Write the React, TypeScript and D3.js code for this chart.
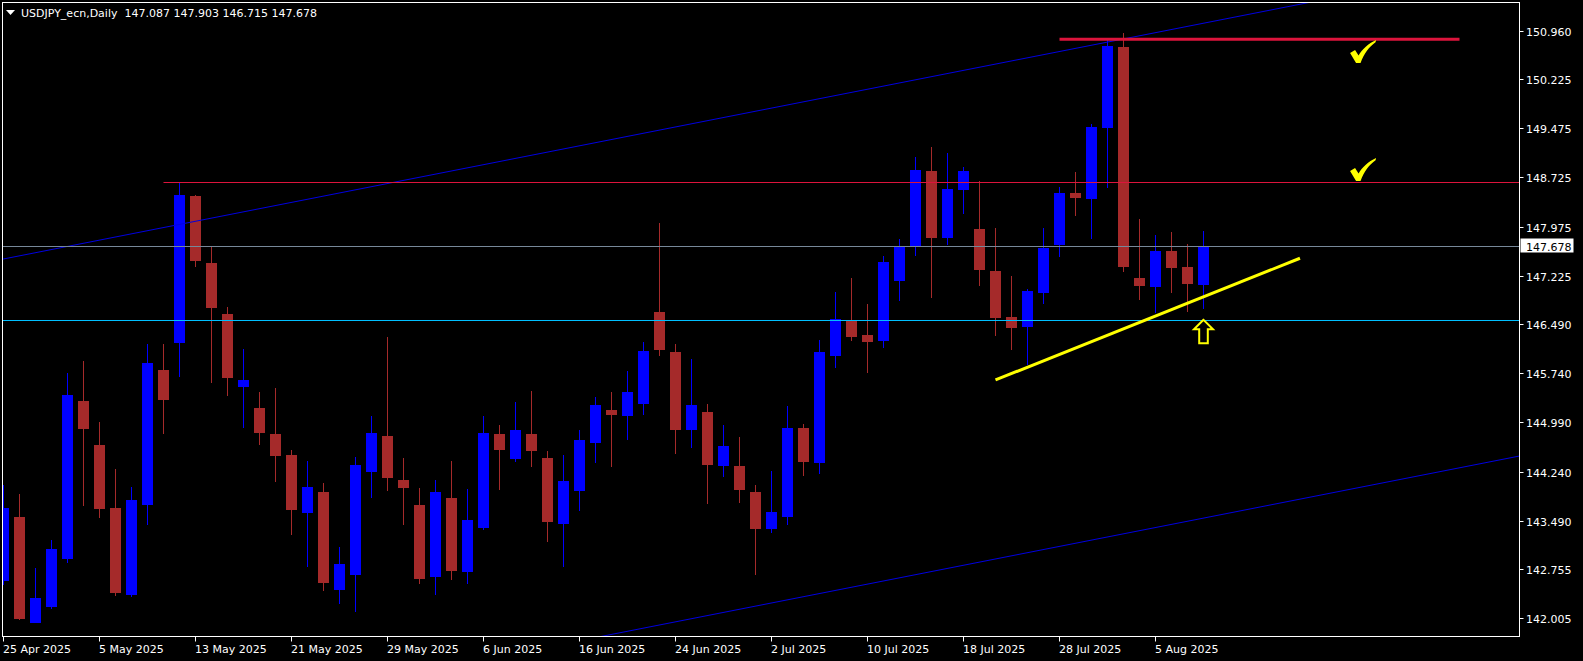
import React from "react";
import * as d3 from "d3";

// ---- Data (USDJPY_ecn, Daily) ----
const dates = [
  "25 Apr", "28 Apr", "29 Apr", "30 Apr", "1 May", "2 May", "5 May", "6 May", "7 May", "8 May",
  "9 May", "12 May", "13 May", "14 May", "15 May", "16 May", "19 May", "20 May", "21 May", "22 May",
  "23 May", "26 May", "27 May", "28 May", "29 May", "30 May", "2 Jun", "3 Jun", "4 Jun", "5 Jun",
  "6 Jun", "9 Jun", "10 Jun", "11 Jun", "12 Jun", "13 Jun", "16 Jun", "17 Jun", "18 Jun", "19 Jun",
  "20 Jun", "23 Jun", "24 Jun", "25 Jun", "26 Jun", "27 Jun", "30 Jun", "1 Jul", "2 Jul", "3 Jul",
  "4 Jul", "7 Jul", "8 Jul", "9 Jul", "10 Jul", "11 Jul", "14 Jul", "15 Jul", "16 Jul", "17 Jul",
  "18 Jul", "21 Jul", "22 Jul", "23 Jul", "24 Jul", "25 Jul", "28 Jul", "29 Jul", "30 Jul", "31 Jul",
  "1 Aug", "4 Aug", "5 Aug", "6 Aug", "7 Aug", "8 Aug",
];

const opens = [
  142.578, 143.549, 141.933, 142.182, 142.909, 145.317, 144.646, 143.686, 142.360, 143.736,
  145.789, 146.205, 148.441, 147.420, 146.642, 145.535, 145.210, 144.814, 144.494, 143.614,
  143.930, 142.441, 142.665, 144.239, 144.783, 144.113, 143.732, 142.634, 143.838, 142.715,
  143.386, 144.814, 144.437, 144.814, 144.448, 143.447, 143.945, 144.676, 145.180, 145.093,
  145.275, 146.673, 146.063, 144.879, 145.149, 144.331, 144.326, 143.930, 143.371, 143.553,
  144.905, 144.376, 146.007, 146.536, 146.322, 146.236, 147.150, 147.668, 148.822, 147.805,
  148.537, 147.938, 147.298, 146.597, 146.449, 146.967, 147.699, 148.487, 148.400, 149.482,
  150.712, 147.191, 147.059, 147.603, 147.359, 147.087,
];

const highs = [
  144.036, 143.899, 142.771, 143.203, 145.743, 145.926, 144.997, 144.280, 144.006, 146.185,
  146.180, 148.644, 148.460, 147.679, 146.754, 146.109, 145.454, 145.515, 144.570, 144.402,
  144.067, 143.092, 144.463, 145.088, 146.297, 144.453, 143.991, 144.113, 144.402, 143.975,
  145.088, 144.951, 145.306, 145.469, 144.555, 144.494, 144.879, 145.378, 145.454, 145.774,
  146.216, 148.029, 146.185, 145.957, 145.271, 144.951, 144.768, 144.036, 144.250, 145.240,
  144.966, 146.246, 146.978, 147.196, 146.795, 147.526, 147.785, 149.035, 149.188, 149.096,
  148.883, 148.669, 147.953, 147.222, 147.024, 147.953, 148.578, 148.807, 149.538, 150.818,
  150.925, 148.090, 147.847, 147.892, 147.709, 147.903,
];

const lows = [
  142.517, 141.984, 141.930, 142.151, 142.852, 143.721, 143.538, 142.349, 142.330, 143.431,
  144.818, 145.687, 147.363, 145.596, 145.397, 144.910, 144.651, 144.087, 143.279, 142.787,
  142.426, 142.227, 142.105, 143.843, 143.950, 143.431, 142.532, 142.360, 142.593, 142.532,
  143.355, 143.965, 144.392, 144.315, 143.172, 142.791, 143.645, 144.376, 144.315, 144.727,
  145.108, 146.007, 144.513, 144.605, 143.751, 144.163, 143.767, 142.670, 143.310, 143.431,
  144.178, 144.209, 145.824, 146.236, 145.748, 146.129, 146.841, 147.531, 146.891, 147.699,
  148.171, 147.074, 146.303, 146.098, 145.870, 146.799, 147.516, 148.141, 147.790, 148.567,
  147.287, 146.860, 146.653, 146.967, 146.677, 146.715,
];

const closes = [
  143.686, 141.999, 142.319, 143.061, 145.408, 144.894, 143.675, 142.395, 143.808, 145.896,
  145.336, 148.456, 147.455, 146.739, 145.672, 145.637, 144.834, 144.483, 143.660, 144.006,
  142.548, 142.832, 144.341, 144.829, 144.148, 143.995, 142.608, 143.930, 142.730, 143.503,
  144.829, 144.574, 144.875, 144.559, 143.477, 144.097, 144.722, 145.256, 145.103, 145.454,
  146.079, 146.098, 144.879, 145.256, 144.346, 144.631, 143.965, 143.371, 143.625, 144.905,
  144.392, 146.063, 146.562, 146.297, 146.220, 147.435, 147.679, 148.837, 147.805, 148.547,
  148.822, 147.318, 146.586, 146.434, 146.993, 147.648, 148.487, 148.415, 149.492, 150.727,
  147.363, 147.074, 147.603, 147.348, 147.104, 147.678,
];

const priceTicks = [
  150.96, 150.225, 149.475, 148.725, 147.975, 147.225, 146.49, 145.74, 144.99, 144.24, 143.49,
  142.755, 142.005,
];
const dateTickIdx = [0, 6, 12, 18, 24, 30, 36, 42, 48, 54, 60, 66, 72];
const dateTickLabels = [
  "25 Apr 2025", "5 May 2025", "13 May 2025", "21 May 2025", "29 May 2025", "6 Jun 2025",
  "16 Jun 2025", "24 Jun 2025", "2 Jul 2025", "10 Jul 2025", "18 Jul 2025", "28 Jul 2025",
  "5 Aug 2025",
];

const headerText = "USDJPY_ecn,Daily  147.087 147.903 146.715 147.678";
const bidPrice = 147.678;

// objects drawn on the chart (bar index, price)
const upperChannel = [[0, 147.481], [75, 151.074]];
const lowerChannelAt75 = 143.532;
const supportLine = [[62, 145.637], [81.03, 147.492]];
const resistThin = { from: 10, price: 148.65 };
const resistThick = { from: 66, to: 91, price: 150.829 };
const cyanLevel = 146.546;
const arrowAnchor = { i: 75, price: 146.577 };
const checkMarks = [
  { i: 84.16, price: 150.468 },
  { i: 84.16, price: 148.67 },
];

const W = 1583;
const H = 661;
const L = 2.5, R = 1519.5, T = 2.5, B = 636.5;
const FONT = "DejaVu Sans";

export default function App() {
  const x = d3.scaleLinear().domain([0, 75]).range([3.5, 1203.5]);
  const y = d3.scaleLinear().domain([142.005, 150.96]).range([618.3, 30.7]);
  const iLeft = x.invert(L);
  const iRight = x.invert(R);

  const slope = (upperChannel[1][1] - upperChannel[0][1]) / (upperChannel[1][0] - upperChannel[0][0]);
  const upAt = (i: number) => upperChannel[0][1] + slope * (i - upperChannel[0][0]);
  const lowAt = (i: number) => lowerChannelAt75 + slope * (i - 75);

  const line = d3.line<[number, number]>().x((d) => x(d[0])).y((d) => y(d[1]));

  const candles = dates.map((d, i) => {
    const o = opens[i], c = closes[i], h = highs[i], l = lows[i];
    const up = c >= o;
    const col = up ? "#0000FF" : "#A52A2A";
    const cx = x(i);
    const yTop = Math.round(y(Math.max(o, c)));
    const yBot = Math.round(y(Math.min(o, c)));
    return (
      <g key={d}>
        <line x1={cx} x2={cx} y1={Math.round(y(h))} y2={Math.round(y(l))} stroke={col} strokeWidth={1} />
        <rect x={cx - 5.5} y={yTop} width={11} height={Math.max(1, yBot - yTop)} fill={col} />
      </g>
    );
  });

  const ax = x(arrowAnchor.i);
  const ay = y(arrowAnchor.price);
  const arrowPts = [
    [0, 1.5], [-9.5, 11], [-4.3, 11], [-4.3, 25], [4.3, 25], [4.3, 11], [9.5, 11],
  ].map((p) => `${ax + p[0]},${ay + p[1]}`).join(" ");

  const checkPath = "M0,13 L5,10 L8.5,15.5 C12.5,9 18,3.5 26,0 L25.5,2.2 C19.5,6.5 14,13 10.5,23 L6,23 Z";

  return (
    <svg
      width={W}
      height={H}
      style={{ position: "absolute", left: 0, top: 0, display: "block", background: "#000" }}
    >
      <rect x={0} y={0} width={W} height={H} fill="#000" />
      <defs>
        <clipPath id="plot">
          <rect x={L} y={T} width={R - L} height={B - T} />
        </clipPath>
      </defs>

      <g clipPath="url(#plot)">
        {candles}

        {/* channel */}
        <path d={line([[iLeft, upAt(iLeft)], [iRight, upAt(iRight)]]) || ""} stroke="#0000E0" strokeWidth={1} fill="none" />
        <path d={line([[iLeft, lowAt(iLeft)], [iRight, lowAt(iRight)]]) || ""} stroke="#0000E0" strokeWidth={1} fill="none" />

        {/* horizontal levels */}
        <line x1={x(resistThin.from)} x2={R} y1={Math.round(y(resistThin.price)) + 0.5} y2={Math.round(y(resistThin.price)) + 0.5} stroke="#DC143C" strokeWidth={1} />
        <line x1={x(resistThick.from)} x2={x(resistThick.to)} y1={y(resistThick.price)} y2={y(resistThick.price)} stroke="#DC143C" strokeWidth={3} />
        <line x1={L} x2={R} y1={Math.round(y(bidPrice)) + 0.5} y2={Math.round(y(bidPrice)) + 0.5} stroke="#778899" strokeWidth={1} />
        <line x1={L} x2={R} y1={Math.round(y(cyanLevel)) + 0.5} y2={Math.round(y(cyanLevel)) + 0.5} stroke="#00BFFF" strokeWidth={1} />

        {/* yellow support */}
        <path d={line(supportLine as [number, number][]) || ""} stroke="#FFFF00" strokeWidth={3} fill="none" />

        {/* arrow */}
        <polygon points={arrowPts} fill="none" stroke="#FFFF00" strokeWidth={2} strokeLinejoin="miter" />

        {/* checks */}
        {checkMarks.map((c, k) => (
          <path key={k} d={checkPath} fill="#FFFF00" transform={`translate(${x(c.i)},${y(c.price) - 23})`} />
        ))}
      </g>

      {/* frame */}
      <rect x={L} y={T} width={R - L} height={B - T} fill="none" stroke="#FFFFFF" strokeWidth={1} />

      {/* header */}
      <polygon points="6,10 15,10 10.5,15" fill="#FFFFFF" />
      <text x={21} y={17} fill="#FFFFFF" fontFamily={FONT} fontSize={11} style={{ whiteSpace: "pre" }}>
        {headerText}
      </text>

      {/* price axis */}
      {priceTicks.map((p) => {
        const yy = Math.round(y(p)) + 0.5;
        return (
          <g key={p}>
            <line x1={R} x2={R + 4} y1={yy} y2={yy} stroke="#FFFFFF" strokeWidth={1} />
            <text x={1526} y={yy + 4} fill="#FFFFFF" fontFamily={FONT} fontSize={11}>
              {p.toFixed(3)}
            </text>
          </g>
        );
      })}

      {/* bid label */}
      <rect x={1520.5} y={Math.round(y(bidPrice)) - 7.5} width={53} height={14} fill="#FFFFFF" />
      <text x={1526} y={Math.round(y(bidPrice)) + 4.5} fill="#000000" fontFamily={FONT} fontSize={11}>
        {bidPrice.toFixed(3)}
      </text>

      {/* date axis */}
      {dateTickIdx.map((i, k) => {
        const xx = x(i);
        return (
          <g key={i}>
            <line x1={xx} x2={xx} y1={B} y2={B + 5} stroke="#FFFFFF" strokeWidth={1} />
            <text x={xx - 0.5} y={653} fill="#FFFFFF" fontFamily={FONT} fontSize={11}>
              {dateTickLabels[k]}
            </text>
          </g>
        );
      })}
    </svg>
  );
}
